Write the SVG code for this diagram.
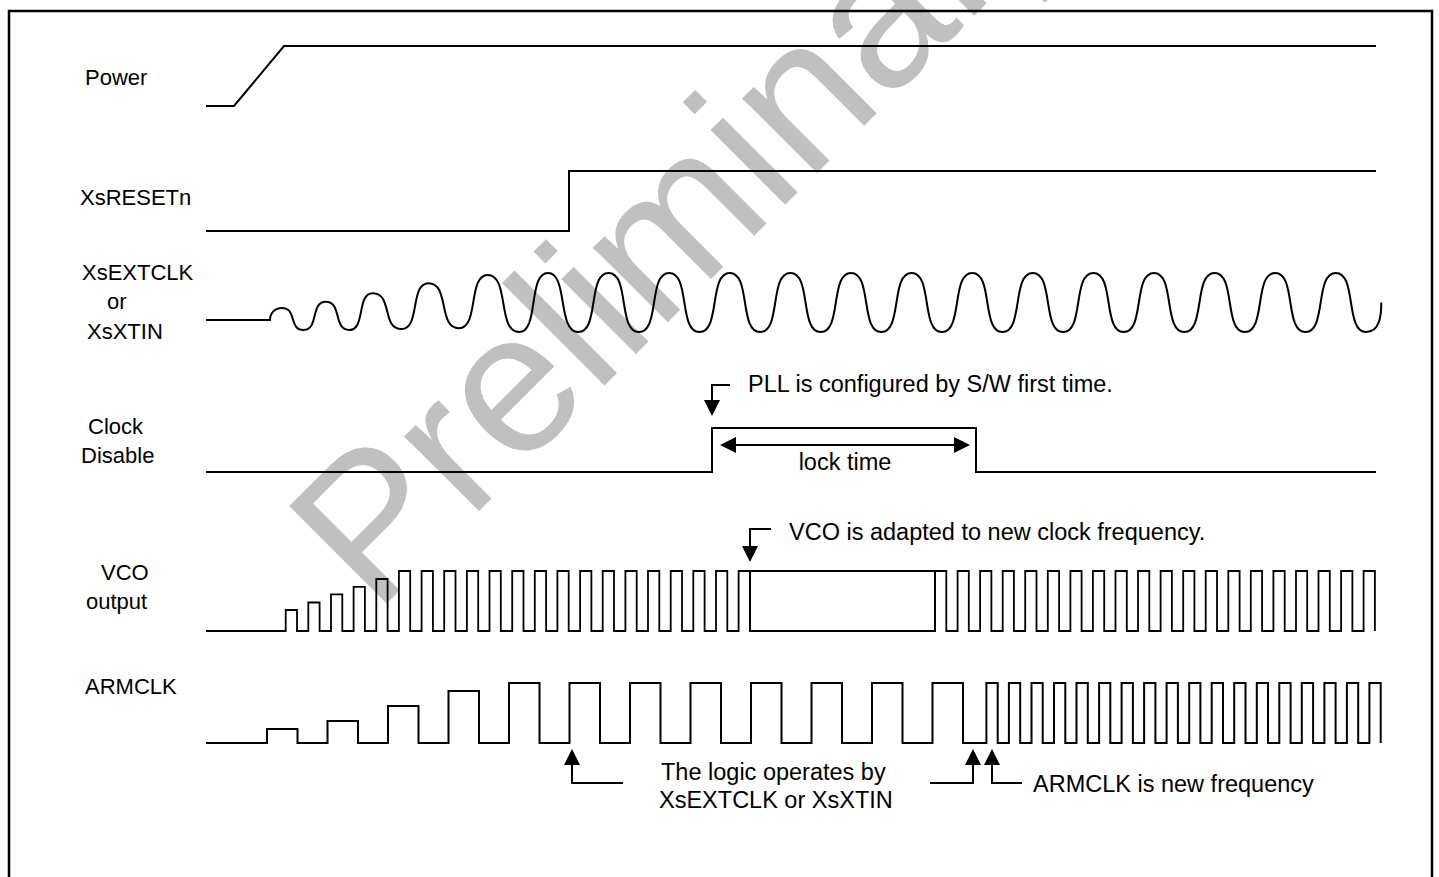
<svg xmlns="http://www.w3.org/2000/svg" width="1439" height="877" viewBox="0 0 1439 877">
<style>
.sig{fill:none;stroke:#000;stroke-width:2;stroke-linejoin:miter}
.thin{fill:none;stroke:#000;stroke-width:1.8}
.lbl{font-family:"Liberation Sans",Arial,sans-serif;font-size:22px;fill:#000}
.ann{font-family:"Liberation Sans",Arial,sans-serif;font-size:23.5px;fill:#000}
.lead{fill:none;stroke:#000;stroke-width:2}
.wm{font-family:"Liberation Sans",Arial,sans-serif;font-size:200px;fill:#c0c0c0}
</style>
<defs>
<marker id="ah" viewBox="0 0 16 16" refX="0" refY="8" markerWidth="16" markerHeight="16" markerUnits="userSpaceOnUse" orient="auto-start-reverse"><path d="M0,0 L16,8 L0,16 z" fill="#000"/></marker>
</defs>
<rect x="0" y="0" width="1439" height="877" fill="#fff"/>
<text class="wm" transform="translate(375,615) rotate(-45)">Preliminary</text>
<rect x="9" y="11" width="1423" height="900" fill="none" stroke="#000" stroke-width="2.5"/>

<g id="power">
<text class="lbl" x="85" y="85">Power</text>
<path class="sig" d="M206,106 H234 L284,46 H1376"/>
</g>
<g id="xsresetn">
<text class="lbl" x="80" y="205">XsRESETn</text>
<path class="sig" d="M206,231 H569 V171 H1376"/>
</g>
<g id="xsextclk">
<text class="lbl" x="82" y="280">XsEXTCLK</text>
<text class="lbl" x="107" y="309">or</text>
<text class="lbl" x="87" y="339">XsXTIN</text>
<path class="sig" d="M206,320 H270 C270,313 275,308 282,308 C297.12,308 288.48,330 303.6,330 C319.07,330 310.23,301.7 325.7,301.7 C342.29,301.7 332.81,330 349.4,330 C365.71,330 356.39,293.3 372.7,293.3 C392.93,293.3 381.37,329 401.6,329 C420.43,329 409.67,283.3 428.5,283.3 C449.85,283.3 437.65,328.3 459,328.3 C479.09,328.3 467.61,275 487.7,275 C509.61,275 497.09,332 519,332 C539.3,332 527.7,273 548,273 S557.09,332 578.3,332 S587.39,273 608.6,273 S617.69,332 638.9,332 S647.99,273 669.2,273 S678.29,332 699.5,332 S708.59,273 729.8,273 S738.89,332 760.1,332 S769.19,273 790.4,273 S799.49,332 820.7,332 S829.79,273 851,273 S860.09,332 881.3,332 S890.39,273 911.6,273 S920.69,332 941.9,332 S950.99,273 972.2,273 S981.29,332 1002.5,332 S1011.59,273 1032.8,273 S1041.89,332 1063.1,332 S1072.19,273 1093.4,273 S1102.49,332 1123.7,332 S1132.79,273 1154,273 S1163.09,332 1184.3,332 S1193.39,273 1214.6,273 S1223.69,332 1244.9,332 S1253.99,273 1275.2,273 S1284.29,332 1305.5,332 S1314.59,273 1335.8,273 S1344.89,332 1366.1,332 C1380,332 1381.3,315 1381.3,302.5"/>
</g>
<g id="clockdisable">
<text class="lbl" x="88" y="434">Clock</text>
<text class="lbl" x="81" y="463">Disable</text>
<path class="sig" d="M206,472 H712 V428 H976 V472 H1376"/>
<text class="ann" x="845" y="470" text-anchor="middle">lock time</text>
</g>
<g id="vco">
<text class="lbl" x="101" y="580">VCO</text>
<text class="lbl" x="86" y="609">output</text>
<path class="thin" d="M206,631 H285.7 V610 H297 V631 H308.3 V602.5 H319.6 V631 H331 V594.4 H342.3 V631 H353.6 V586.8 H364.9 V631 H376.3 V579 H387.6 V631 H398.9 V571 H410.2 V631 H421.6 V571 H432.9 V631 H444.2 V571 H455.5 V631 H466.9 V571 H478.2 V631 H489.5 V571 H500.8 V631 H512.2 V571 H523.5 V631 H534.8 V571 H546.1 V631 H557.4 V571 H568.7 V631 H580.1 V571 H591.4 V631 H602.7 V571 H614 V631 H625.4 V571 H636.7 V631 H648 V571 H659.3 V631 H670.7 V571 H682 V631 H693.3 V571 H704.6 V631 H716 V571 H727.3 V631 H738.6 V571 H750 V631"/>
<rect class="sig" x="750" y="571" width="185" height="60"/>
<path class="thin" d="M935,631 V571 H946.3 V631 H957.6 V571 H968.8 V631 H980.1 V571 H991.4 V631 H1002.7 V571 H1013.9 V631 H1025.2 V571 H1036.5 V631 H1047.8 V571 H1059.1 V631 H1070.4 V571 H1081.6 V631 H1092.9 V571 H1104.2 V631 H1115.5 V571 H1126.8 V631 H1138 V571 H1149.3 V631 H1160.6 V571 H1171.9 V631 H1183.2 V571 H1194.4 V631 H1205.7 V571 H1217 V631 H1228.3 V571 H1239.6 V631 H1250.8 V571 H1262.1 V631 H1273.4 V571 H1284.7 V631 H1296 V571 H1307.2 V631 H1318.5 V571 H1329.8 V631 H1341.1 V571 H1352.4 V631 H1363.6 V571 H1374.9 V631"/>
</g>
<g id="armclk">
<text class="lbl" x="85" y="694">ARMCLK</text>
<path class="sig" d="M206,743 H267 V729 H297.5 V743 H327.5 V721 H358 V743 H388 V706 H418.5 V743 H448.5 V691 H479 V743 H509 V683 H539.5 V743 H569.5 V683 H600 V743 H630 V683 H660.5 V743 H690.5 V683 H721 V743 H751 V683 H781.5 V743 H811.5 V683 H842 V743 H872 V683 H902.5 V743 H932.5 V683 H963 V743 H986.4 V683 H997.7 V743 H1008.9 V683 H1020.2 V743 H1031.5 V683 H1042.7 V743 H1054 V683 H1065.3 V743 H1076.5 V683 H1087.8 V743 H1099.1 V683 H1110.3 V743 H1121.6 V683 H1132.9 V743 H1144.1 V683 H1155.4 V743 H1166.6 V683 H1177.9 V743 H1189.2 V683 H1200.4 V743 H1211.7 V683 H1223 V743 H1234.2 V683 H1245.5 V743 H1256.8 V683 H1268 V743 H1279.3 V683 H1290.6 V743 H1301.8 V683 H1313.1 V743 H1324.4 V683 H1335.6 V743 H1346.9 V683 H1358.2 V743 H1369.4 V683 H1380.7 V743"/>
</g>

<g id="connectors">
<path class="lead" d="M730,385 H712 V400" marker-end="url(#ah)"/>
<path class="lead" d="M736,445 H954" marker-start="url(#ah)" marker-end="url(#ah)"/>
<path class="lead" d="M771,529 H750 V546" marker-end="url(#ah)"/>
<path class="lead" d="M623,783 H572 V765" marker-end="url(#ah)"/>
<path class="lead" d="M930,783 H973 V765" marker-end="url(#ah)"/>
<path class="lead" d="M1022,783 H992 V765" marker-end="url(#ah)"/>
</g>

<g id="annotations">
<text class="ann" x="748" y="392">PLL is configured by S/W first time.</text>
<text class="ann" x="789" y="540">VCO is adapted to new clock frequency.</text>
<text class="ann" x="661" y="780">The logic operates by</text>
<text class="ann" x="659" y="808">XsEXTCLK or XsXTIN</text>
<text class="ann" x="1033" y="792">ARMCLK is new frequency</text>
</g>
</svg>
